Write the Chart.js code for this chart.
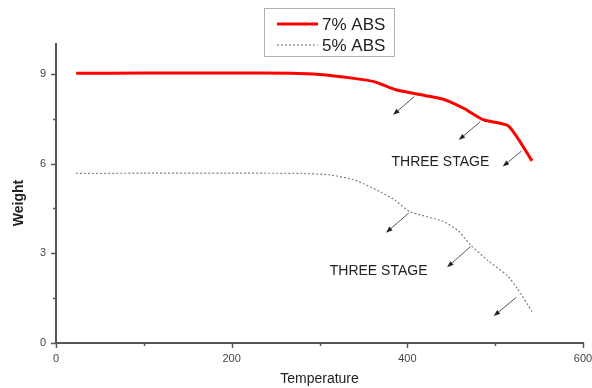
<!DOCTYPE html>
<html>
<head>
<meta charset="utf-8">
<title>Weight vs Temperature</title>
<script src="https://cdn.jsdelivr.net/npm/chart.js@4/dist/chart.umd.min.js"></script>
<style>
    html, body { margin: 0; padding: 0; background: #fff; }
    #wrap { width: 592px; height: 388px; }
</style>
</head>
<body>
<div id="wrap"><canvas id="tgaChart" width="592" height="388"></canvas></div>
<script>
// Curve values
const tempRed = [23, 100, 200, 267, 300, 339, 362, 388, 440, 464, 487, 515, 542];
const weightRed = [9.02, 9.03, 9.03, 9.02, 8.98, 8.85, 8.74, 8.46, 8.16, 7.85, 7.46, 7.26, 6.09];

const tempGray = [23, 100, 200, 280, 312, 340, 369, 385, 403, 440, 458, 472, 492, 514, 525, 542];
const weightGray = [5.67, 5.68, 5.68, 5.67, 5.62, 5.45, 5.06, 4.8, 4.39, 4.08, 3.75, 3.28, 2.75, 2.25, 1.83, 1.05];

const seriesLabels = ['7% ABS', '5% ABS'];

// Axis ticks
const xTicks = [0, 200, 400, 600];
const xMinorTicks = [100, 300, 500];
const yTicks = [0, 3, 6, 9];
const yMinorTicks = [1.5, 4.5, 7.5];

// Annotation arrows [fromX, fromY, toX, toY] in data units
const arrowsRed = [[408, 8.24, 383.7, 7.63], [483, 7.40, 458.5, 6.79], [530, 6.42, 508.6, 5.90]];
const arrowsGray = [[401.5, 4.34, 375.7, 3.69], [471.8, 3.22, 445.2, 2.53], [524.2, 1.53, 498.3, 0.90]];
// Annotation labels [x, y, text]
const notes = [[437.6, 6.06, 'THREE STAGE'], [367.3, 2.42, 'THREE STAGE']];

const FONT = '"Liberation Sans", Arial, sans-serif';

function toPoints(xs, ys) {
    return xs.map((x, i) => ({ x: x, y: ys[i] }));
}

function drawArrow(ctx, x1, y1, x2, y2) {
    const ang = Math.atan2(y2 - y1, x2 - x1);
    const head = 7;
    ctx.beginPath();
    ctx.moveTo(x1, y1);
    ctx.lineTo(x2 - Math.cos(ang) * 4, y2 - Math.sin(ang) * 4);
    ctx.stroke();
    ctx.beginPath();
    ctx.moveTo(x2, y2);
    ctx.lineTo(x2 - head * Math.cos(ang - 0.35), y2 - head * Math.sin(ang - 0.35));
    ctx.lineTo(x2 - head * Math.cos(ang + 0.35), y2 - head * Math.sin(ang + 0.35));
    ctx.closePath();
    ctx.fill();
}

/**
 * Ticks, arrows, notes, legend box and the y title
 */
const decorations = {
    id: 'decorations',
    afterDraw(chart) {
        const { ctx, scales: { x, y } } = chart;
        ctx.save();

        // tick marks
        ctx.strokeStyle = '#555';
        ctx.lineWidth = 1.5;
        const axisY = y.getPixelForValue(0);
        const axisX = x.getPixelForValue(0);
        xTicks.concat(xMinorTicks).forEach(v => {
            const px = Math.round(x.getPixelForValue(v)) + 0.5;
            const len = xTicks.includes(v) ? 5 : 3;
            ctx.beginPath();
            ctx.moveTo(px, axisY);
            ctx.lineTo(px, axisY + len);
            ctx.stroke();
        });
        yTicks.concat(yMinorTicks).forEach(v => {
            const py = Math.round(y.getPixelForValue(v)) + 0.5;
            const len = yTicks.includes(v) ? 5 : 3;
            ctx.beginPath();
            ctx.moveTo(axisX, py);
            ctx.lineTo(axisX - len, py);
            ctx.stroke();
        });

        // arrows
        ctx.strokeStyle = '#555';
        ctx.fillStyle = '#222';
        ctx.lineWidth = 1;
        arrowsRed.concat(arrowsGray).forEach(a => {
            drawArrow(ctx, x.getPixelForValue(a[0]), y.getPixelForValue(a[1]),
                x.getPixelForValue(a[2]), y.getPixelForValue(a[3]));
        });

        // notes
        ctx.fillStyle = '#222';
        ctx.font = '14px ' + FONT;
        ctx.textAlign = 'center';
        ctx.textBaseline = 'middle';
        notes.forEach(n => {
            ctx.fillText(n[2], x.getPixelForValue(n[0]), y.getPixelForValue(n[1]));
        });

        // y axis title
        ctx.save();
        ctx.translate(19, 203);
        ctx.rotate(-Math.PI / 2);
        ctx.font = 'bold 14px ' + FONT;
        ctx.fillText('Weight', 0, 0);
        ctx.restore();

        // legend with box
        const box = { left: 264, top: 8, right: 394, bottom: 56 };
        ctx.strokeStyle = '#b0b0b0';
        ctx.lineWidth = 1;
        ctx.strokeRect(box.left + 0.5, box.top + 0.5, box.right - box.left, box.bottom - box.top);
        ctx.font = '17px ' + FONT;
        ctx.textAlign = 'left';
        chart.data.datasets.forEach((ds, i) => {
            const ly = 24 + i * 21;
            ctx.strokeStyle = ds.borderColor;
            ctx.lineWidth = ds.borderWidth;
            ctx.setLineDash(ds.borderDash || []);
            ctx.beginPath();
            ctx.moveTo(277, ly);
            ctx.lineTo(318, ly);
            ctx.stroke();
            ctx.setLineDash([]);
            ctx.fillStyle = '#222';
            ctx.fillText(ds.label, 322, ly + 1);
        });

        ctx.restore();
    }
};

new Chart(document.getElementById('tgaChart'), {
    type: 'line',
    data: {
        datasets: [
            {
                label: seriesLabels[0],
                data: toPoints(tempRed, weightRed),
                borderColor: '#ff0000',
                borderWidth: 3,
                pointRadius: 0,
                tension: 0.2,
                fill: false
            },
            {
                label: seriesLabels[1],
                data: toPoints(tempGray, weightGray),
                borderColor: '#808080',
                borderWidth: 1.2,
                borderDash: [2, 2],
                pointRadius: 0,
                tension: 0.2,
                fill: false
            }
        ]
    },
    options: {
        responsive: false,
        animation: false,
        layout: { padding: { top: 44, right: 9, left: 0, bottom: 0 } },
        plugins: {
            legend: { display: false },
            tooltip: { enabled: false }
        },
        scales: {
            x: {
                type: 'linear',
                min: 0,
                max: 600,
                afterBuildTicks: axis => { axis.ticks = xTicks.map(v => ({ value: v })); },
                afterFit: axis => {
                    axis.height = 45;
                    axis.paddingRight = 0;
                    axis.paddingLeft = 0;
                },
                grid: { display: false, drawTicks: true, tickLength: 5 },
                border: { display: true, color: '#555', width: 2 },
                ticks: {
                    color: '#444',
                    font: { family: FONT, size: 11 },
                    padding: 4,
                    maxRotation: 0
                },
                title: {
                    display: true,
                    text: 'Temperature',
                    color: '#222',
                    font: { family: FONT, size: 14 },
                    padding: { top: 0, bottom: 0 }
                }
            },
            y: {
                type: 'linear',
                min: 0,
                max: 10,
                afterBuildTicks: axis => { axis.ticks = yTicks.map(v => ({ value: v })); },
                afterFit: axis => { axis.width = 56; },
                grid: { display: false, drawTicks: true, tickLength: 5 },
                border: { display: true, color: '#555', width: 2 },
                ticks: {
                    color: '#444',
                    font: { family: FONT, size: 11 },
                    padding: 5
                }
            }
        }
    },
    plugins: [decorations]
});
</script>
</body>
</html>
